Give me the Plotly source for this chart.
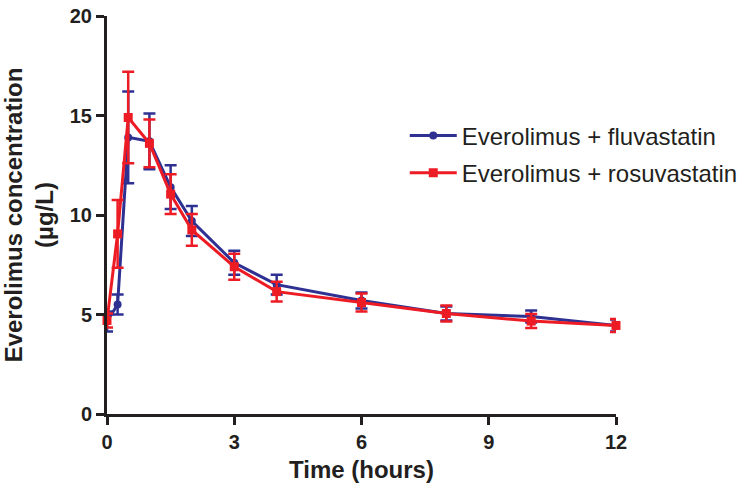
import plotly.graph_objects as go

time_h = [0, 0.25, 0.5, 1, 1.5, 2, 3, 4, 6, 8, 10, 12]

fluva_mean = [4.65, 5.5, 13.9, 13.7, 11.4, 9.7, 7.6, 6.5, 5.7, 5.05, 4.9, 4.45]
fluva_err = [0.5, 0.5, 2.3, 1.4, 1.1, 0.75, 0.6, 0.5, 0.4, 0.35, 0.3, 0.3]

rosu_mean = [4.7, 9.05, 14.9, 13.6, 11.05, 9.25, 7.4, 6.15, 5.6, 5.05, 4.67, 4.45]
rosu_err = [0.35, 1.7, 2.3, 1.2, 1.0, 0.8, 0.65, 0.5, 0.45, 0.4, 0.35, 0.33]

x_ticks = [0, 3, 6, 9, 12]
y_ticks = [0, 5, 10, 15, 20]

BLUE = "#2E3192"
RED = "#ED1C24"
INK = "#231F20"
FONT = "Liberation Sans, Arial, sans-serif"

fig = go.Figure()
fig.add_trace(go.Scatter(
    x=time_h, y=fluva_mean, name="Everolimus + fluvastatin",
    legendgroup="a",
    mode="lines+markers",
    line=dict(color=BLUE, width=3),
    marker=dict(symbol="circle", size=8, color=BLUE),
    error_y=dict(type="data", array=fluva_err, color=BLUE, thickness=2.5, width=6),
    cliponaxis=False,
))
fig.add_trace(go.Scatter(
    x=time_h, y=rosu_mean, name="Everolimus + rosuvastatin",
    legendgroup="b",
    mode="lines+markers",
    line=dict(color=RED, width=3),
    marker=dict(symbol="square", size=9, color=RED),
    error_y=dict(type="data", array=rosu_err, color=RED, thickness=2.5, width=6),
    cliponaxis=False,
))

tickfont = dict(size=20, family=FONT, color=INK, weight="bold")
fig.update_layout(
    width=747, height=492,
    margin=dict(l=107, r=131, t=16, b=78, autoexpand=False),
    paper_bgcolor="white", plot_bgcolor="white",
    font=dict(family=FONT, color=INK),
    showlegend=True,
    legend=dict(x=0.585, y=0.755, xanchor="left", yanchor="top",
                font=dict(size=24, color=INK), itemwidth=47,
                tracegroupgap=3,
                bgcolor="rgba(0,0,0,0)"),
    xaxis=dict(
        range=[0, 12], tickvals=x_ticks, ticktext=[str(v) for v in x_ticks],
        showgrid=False, zeroline=False, showline=True, linecolor=INK, linewidth=3,
        ticks="outside", ticklen=8, tickwidth=2.5, tickcolor=INK,
        tickfont=tickfont, automargin=False, ticklabeloverflow="allow",
        title=dict(text="<b>Time (hours)</b>", font=dict(size=24, color=INK), standoff=10),
    ),
    yaxis=dict(
        range=[0, 20], tickvals=y_ticks, ticktext=[str(v) for v in y_ticks],
        showgrid=False, zeroline=False, showline=True, linecolor=INK, linewidth=3,
        ticks="outside", ticklen=8, tickwidth=2.5, tickcolor=INK,
        tickfont=tickfont, automargin=False, ticklabeloverflow="allow",
        title=dict(text="<b>Everolimus concentration<br>(µg/L)</b>", font=dict(size=24, color=INK), standoff=12),
    ),
)

fig.write_html("out.html", config={"displayModeBar": False},
               post_script="document.body.style.margin='0px';")
